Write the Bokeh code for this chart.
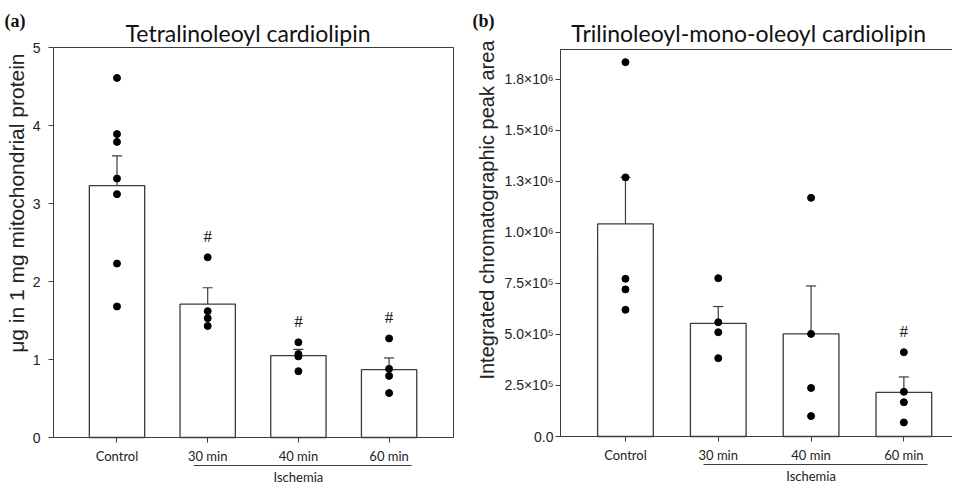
import math
from bokeh.plotting import figure
from bokeh.models import (Range1d, FixedTicker, LinearAxis, Whisker, TeeHead,
                          ColumnDataSource)
from bokeh.layouts import row
from bokeh.embed import file_html
from bokeh.resources import INLINE
from bokeh.core.properties import value

# ---------------- data ----------------
categories = ["Control", "30 min", "40 min", "60 min"]
group_label = "Ischemia"
group_members = [1, 2, 3]

a_letter = "(a)"
a_title = "Tetralinoleoyl cardiolipin"
a_ylabel = "μg in 1 mg mitochondrial protein"
a_mean = [3.23, 1.71, 1.05, 0.87]
a_sem = [0.38, 0.21, 0.08, 0.15]
a_points = [
    [4.61, 3.89, 3.79, 3.32, 3.12, 2.23, 1.68],
    [2.31, 1.62, 1.53, 1.43],
    [1.22, 1.07, 1.04, 0.85],
    [1.27, 0.88, 0.79, 0.57],
]
a_sig = [False, True, True, True]
a_yticks = [0, 1, 2, 3, 4, 5]
a_yticklabels = ["0", "1", "2", "3", "4", "5"]
a_ymax = 5

b_letter = "(b)"
b_title = "Trilinoleoyl-mono-oleoyl cardiolipin"
b_ylabel = "Integrated chromatographic peak area"
b_mean = [1.042e6, 5.55e5, 5.03e5, 2.16e5]
b_sem = [2.28e5, 0.82e5, 2.35e5, 0.76e5]
b_points = [
    [1.835e6, 1.270e6, 7.73e5, 7.21e5, 6.21e5],
    [7.76e5, 5.60e5, 5.11e5, 3.84e5],
    [1.170e6, 5.03e5, 2.38e5, 1.00e5],
    [4.13e5, 2.19e5, 1.68e5, 0.69e5],
]
b_sig = [False, False, False, True]
b_yticks = [0, 250000, 500000, 750000, 1000000, 1250000, 1500000, 1750000]
b_yticklabels = ["0.0", "2.5×10⁵", "5.0×10⁵", "7.5×10⁵", "1.0×10⁶",
                 "1.3×10⁶", "1.5×10⁶", "1.8×10⁶"]
b_ymax = 1.897e6

LINE = "#3c3c3c"
TXT = "#222222"
X0 = -0.70
HEIGHT = 483


def bare_axis(ax):
    ax.axis_line_color = LINE
    ax.major_tick_line_color = None
    ax.minor_tick_line_color = None
    ax.major_label_text_font_size = "0px"
    ax.major_label_standoff = 0
    ax.axis_label_standoff = 0


def style_axis(ax, size="14px", font="Liberation Sans"):
    ax.axis_line_color = LINE
    ax.major_tick_line_color = LINE
    ax.minor_tick_line_color = None
    ax.major_tick_in = 0
    ax.major_tick_out = 5
    ax.major_label_text_font = font
    ax.major_label_text_font_size = size
    ax.major_label_text_color = TXT
    ax.axis_label_standoff = 0


def make_panel(letter, title, ylabel, mean, sem, points, sig, yticks, yticklabels,
               ymax, width, f_left, f_right, f_top, f_bottom, x_end, bar_width,
               letter_dx, letter_dy, title_dx, title_dy, ylab_dx, ylab_dy,
               ylab_size, tick_standoff, closed):
    # plot-area (frame) geometry in canvas pixels -> full ranges of the canvas
    x_ppu = (f_right - f_left) / (x_end - X0)
    y_ppu = (f_bottom - f_top) / ymax
    xr = Range1d(X0 - f_left / x_ppu, x_end + (width - f_right) / x_ppu)
    yr = Range1d(-(HEIGHT - f_bottom) / y_ppu, ymax + f_top / y_ppu)

    p = figure(width=width, height=HEIGHT, x_range=xr, y_range=yr,
               output_backend="svg", toolbar_location=None, title=None,
               min_border=0)
    p.xgrid.visible = False
    p.ygrid.visible = False
    p.outline_line_color = None
    p.background_fill_color = "white"
    p.border_fill_color = "white"

    xs = list(range(len(categories)))

    # bars
    p.vbar(x=xs, top=mean, width=bar_width, bottom=0, fill_color="white",
           line_color=LINE, line_width=1.3)

    # error bars (upper only)
    src = ColumnDataSource(dict(x=xs, lo=mean, hi=[m + s for m, s in zip(mean, sem)]))
    p.add_layout(Whisker(source=src, base="x", lower="lo", upper="hi",
                         dimension="height", line_color=LINE, line_width=1.2,
                         upper_head=TeeHead(size=10, line_color=LINE, line_width=1.2),
                         lower_head=None))

    # individual points
    px, py = [], []
    for i, pts in enumerate(points):
        px += [i] * len(pts)
        py += pts
    p.scatter(x=px, y=py, size=7, color="black")

    # significance marks
    sx = [i for i in xs if sig[i]]
    sy = [max(points[i]) for i in xs if sig[i]]
    p.text(x=sx, y=sy, text=["#"] * len(sx), text_align="center",
           text_baseline="middle", y_offset=-21,
           text_font=value("Liberation Serif"), text_font_size="17px",
           text_color="#111111")

    # x axis at y = 0
    xa = p.xaxis[0]
    style_axis(xa, size="13px", font="Lato")
    xa.fixed_location = 0
    xa.bounds = (X0, x_end)
    xa.ticker = FixedTicker(ticks=xs)
    xa.major_label_overrides = {i: c for i, c in enumerate(categories)}
    xa.major_label_standoff = 5

    # y axis at left edge of the plot box
    ya = p.yaxis[0]
    style_axis(ya)
    ya.fixed_location = X0
    ya.bounds = (0, ymax)
    ya.ticker = FixedTicker(ticks=yticks)
    ya.major_label_overrides = {t: l for t, l in zip(yticks, yticklabels)}
    ya.major_label_standoff = tick_standoff

    # box edges
    top_edge = LinearAxis(fixed_location=ymax, bounds=(X0, x_end),
                          ticker=FixedTicker(ticks=[]))
    bare_axis(top_edge)
    p.add_layout(top_edge, "above")
    if closed:
        right_edge = LinearAxis(fixed_location=x_end, bounds=(0, ymax),
                                ticker=FixedTicker(ticks=[]))
        bare_axis(right_edge)
        p.add_layout(right_edge, "right")

    # group line + label under the ischemia categories
    gx = sum(group_members) / len(group_members)
    gline = LinearAxis(fixed_location=-28 / y_ppu, bounds=(0.84, 3.25),
                       ticker=FixedTicker(ticks=[gx]),
                       major_label_overrides={int(gx): group_label})
    style_axis(gline, size="13px", font="Lato")
    gline.major_tick_out = 0
    gline.major_label_standoff = 3
    p.add_layout(gline, "below")

    # y axis title
    p.text(x=[X0], y=[ymax], text=[ylabel], angle=math.pi / 2,
           x_offset=ylab_dx, y_offset=ylab_dy, text_align="right",
           text_baseline="middle", text_font=value("Liberation Sans"),
           text_font_size=ylab_size, text_color=TXT)

    # panel title and letter
    cx = (len(categories) - 1) / 2
    p.text(x=[cx], y=[ymax], text=[title], x_offset=title_dx, y_offset=title_dy,
           text_align="center", text_baseline="alphabetic",
           text_font=value("Lato"), text_font_size="23px", text_color="#111111")
    p.text(x=[X0], y=[ymax], text=[letter], x_offset=letter_dx, y_offset=letter_dy,
           text_align="left", text_baseline="alphabetic",
           text_font=value("Liberation Serif"), text_font_style="bold",
           text_font_size="18px", text_color="#111111")
    return p


p1 = make_panel(a_letter, a_title, a_ylabel, a_mean, a_sem, a_points, a_sig,
                a_yticks, a_yticklabels, a_ymax, width=470, f_left=53, f_right=453,
                f_top=47, f_bottom=437, x_end=3.71, bar_width=0.61,
                letter_dx=-49, letter_dy=-27, title_dx=-5, title_dy=-15,
                ylab_dx=-37, ylab_dy=6, ylab_size="21px", tick_standoff=8,
                closed=True)
p2 = make_panel(b_letter, b_title, b_ylabel, b_mean, b_sem, b_points, b_sig,
                b_yticks, b_yticklabels, b_ymax, width=482, f_left=90, f_right=482,
                f_top=49, f_bottom=436, x_end=3.524, bar_width=0.60,
                letter_dx=-88, letter_dy=-29, title_dx=-16, title_dy=-17,
                ylab_dx=-74, ylab_dy=-9, ylab_size="20px", tick_standoff=2,
                closed=False)

layout = row(p1, p2)
open("out.html", "w").write(file_html(layout, INLINE))
